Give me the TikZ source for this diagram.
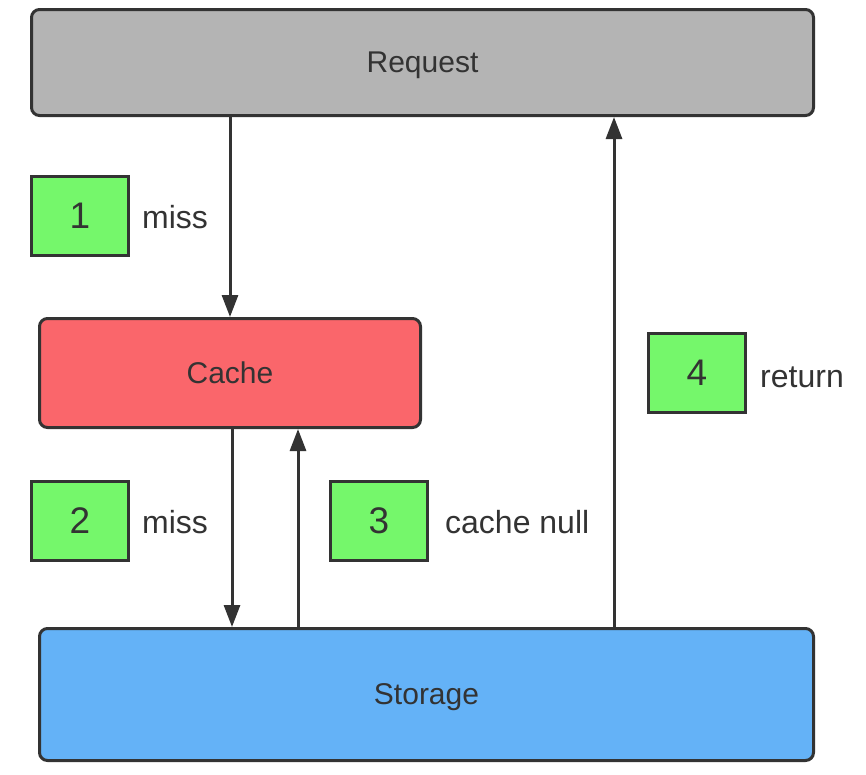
\documentclass[tikz,border=0pt]{standalone}
\usepackage{fontspec}
\setmainfont{Liberation Sans}
\usetikzlibrary{arrows.meta}
\definecolor{edge}{HTML}{333333}
\definecolor{reqfill}{HTML}{B4B4B4}
\definecolor{cachefill}{HTML}{FA666B}
\definecolor{storefill}{HTML}{64B2F7}
\definecolor{stepfill}{HTML}{75F76B}
\definecolor{txt}{HTML}{333333}
\tikzset{
  bigbox/.style={draw=edge, line width=3pt, rounded corners=8pt, text=txt, font=\fontsize{30}{35}\selectfont, inner sep=0pt, text depth=0pt},
  numbox/.style={draw=edge, line width=3pt, fill=stepfill, minimum width=97pt, minimum height=79pt, text=txt, font=\fontsize{37}{42}\selectfont, inner sep=0pt},
  lbl/.style={anchor=west, text=txt, font=\fontsize{32}{37}\selectfont, inner sep=0pt},
  arr/.style={draw=edge, line width=3pt, -{Triangle[width=16pt,length=22pt]}}
}
\begin{document}
\begin{tikzpicture}[x=1pt,y=-1pt]
\useasboundingbox (0,0) rectangle (866,774);
\node[bigbox, fill=reqfill, minimum width=782pt, minimum height=106pt] (req) at (422.5,62.5) {Request};
\node[bigbox, fill=cachefill, minimum width=381pt, minimum height=109pt] (cache) at (230,373) {Cache};
\node[bigbox, fill=storefill, minimum width=774pt, minimum height=132pt] (sto) at (426.5,694.5) {Storage};
\node[numbox] (n1) at (80,216) {1};
\node[numbox] (n2) at (80,521) {2};
\node[numbox] (n3) at (379,521) {3};
\node[numbox] (n4) at (697,373) {4};
\node[lbl] (l1) at (142,217) {miss};
\node[lbl] (l2) at (142,522) {miss};
\node[lbl] (l3) at (445,522) {cache null};
\node[lbl] (l4) at (760,377) {return};
\coordinate (c3) at (298,0);
\coordinate (c4) at (614,0);
\draw[arr] (req.south -| cache.north) -- (cache.north);
\draw[arr] ([xshift=2pt]cache.south) -- ([xshift=2pt]cache.south |- sto.north);
\draw[arr] (c3 |- sto.north) -- (c3 |- cache.south);
\draw[arr] (c4 |- sto.north) -- (c4 |- req.south);
\end{tikzpicture}
\end{document}
